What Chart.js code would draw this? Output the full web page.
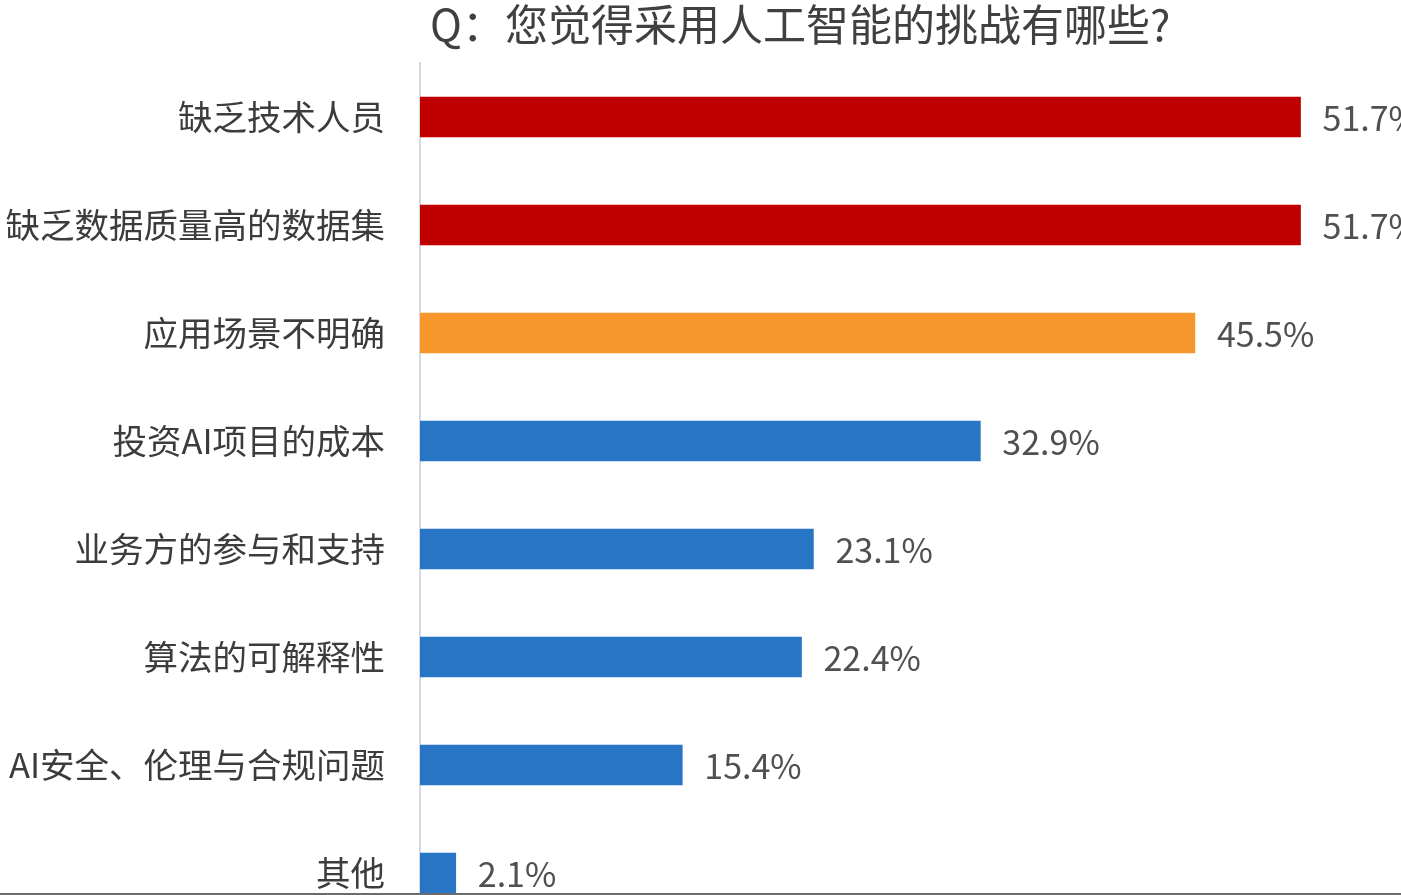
<!DOCTYPE html>
<html lang="zh-CN">
<head>
<meta charset="utf-8">
<title>人工智能挑战</title>
<script src="https://cdn.jsdelivr.net/npm/chart.js@4.4.1/dist/chart.umd.min.js"></script>
<style>
  html, body { margin: 0; padding: 0; background: #fff; overflow: hidden; }
  canvas { display: block; }
  .bottom-edge { position: fixed; left: 0; right: 0; bottom: 0; height: 2px; background: #6b6b6b; }
</style>
</head>
<body>
<canvas id="challengeChart" width="1401" height="927"></canvas>
<div class="bottom-edge"></div>
<script>
// Chart data
const titleText = 'Q：您觉得采用人工智能的挑战有哪些?';
const categories = [
  '缺乏技术人员',
  '缺乏数据质量高的数据集',
  '应用场景不明确',
  '投资AI项目的成本',
  '业务方的参与和支持',
  '算法的可解释性',
  'AI安全、伦理与合规问题',
  '其他'
];
const shares = [51.7, 51.7, 45.5, 32.9, 23.1, 22.4, 15.4, 2.1];
const barColors = ['#C00000', '#C00000', '#F7962B', '#2874C5', '#2874C5', '#2874C5', '#2874C5', '#2874C5'];

const cjkFont = "'Noto Sans CJK SC', 'Noto Sans', sans-serif";

// Percent labels at the end of each bar
const valueLabels = {
  id: 'valueLabels',
  afterDatasetsDraw(chart) {
    const ctx = chart.ctx;
    const meta = chart.getDatasetMeta(0);
    ctx.save();
    ctx.font = `34px ${cjkFont}`;
    ctx.fillStyle = '#505050';
    ctx.textAlign = 'left';
    ctx.textBaseline = 'middle';
    meta.data.forEach((bar, i) => {
      ctx.fillText(shares[i].toFixed(1) + '%', bar.x + 22, bar.y + 1);
    });
    ctx.restore();
  }
};

// Title sits over the left part of the plot, not centred on the canvas
const questionTitle = {
  id: 'questionTitle',
  afterDraw(chart) {
    const ctx = chart.ctx;
    ctx.save();
    ctx.font = `43px ${cjkFont}`;
    ctx.fillStyle = '#404040';
    ctx.textAlign = 'left';
    ctx.textBaseline = 'middle';
    ctx.fillText(titleText, chart.chartArea.left + 10, 25);
    ctx.restore();
  }
};

function setupChart() {
  const ctx = document.getElementById('challengeChart');

  new Chart(ctx, {
    type: 'bar',
    data: {
      labels: categories,
      datasets: [{
        data: shares,
        backgroundColor: barColors,
        borderWidth: 0,
        barThickness: 40
      }]
    },
    options: {
      indexAxis: 'y',
      responsive: false,
      animation: false,
      layout: {
        padding: { top: 63, right: 0, bottom: 0, left: 0 }
      },
      plugins: {
        legend: { display: false },
        tooltip: { enabled: false }
      },
      scales: {
        x: {
          display: false,
          min: 0,
          max: 57.6
        },
        y: {
          // fixed label column; no extra label padding above/below the bars
          afterFit(scale) {
            scale.width = 420;
            scale.paddingTop = 0;
            scale.paddingBottom = 0;
          },
          grid: { display: false, drawTicks: false },
          border: { display: true, color: '#D3DAE6', width: 2 },
          ticks: {
            padding: 35,
            color: '#3c3c3c',
            font: { size: 34.5, family: cjkFont }
          }
        }
      }
    },
    plugins: [valueLabels, questionTitle]
  });
}

document.addEventListener('DOMContentLoaded', setupChart);
</script>
</body>
</html>
